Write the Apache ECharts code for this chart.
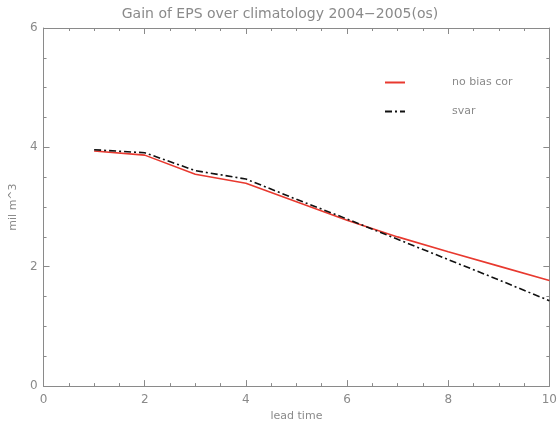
<!DOCTYPE html>
<html><head><meta charset="utf-8">
<script src="https://cdn.jsdelivr.net/npm/echarts@6/dist/echarts.min.js"></script>
<style>html,body{margin:0;padding:0;background:#fff}#c{width:560px;height:427px}</style>
</head><body><div id="c"></div>
<script>
const leadTime = [1, 2, 3, 4, 5, 6, 7, 8, 9, 10];
const noBiasCor = [3.94, 3.87, 3.55, 3.40, 3.09, 2.78, 2.50, 2.25, 2.01, 1.77];
const svar = [3.96, 3.91, 3.61, 3.47, 3.13, 2.80, 2.46, 2.12, 1.78, 1.43];
const seriesNames = ['no bias cor', 'svar'];
const titleText = 'Gain of EPS over climatology 2004\u22122005(os)';
const xName = 'lead time';
const yName = 'mil m^3';

const gray = '#8a8a8a';
const font = 'DejaVu Sans';
const chart = echarts.init(document.getElementById('c'));
const axisCommon = {
  axisLine: {show: true, onZero: false, lineStyle: {color: gray, width: 1}},
  axisTick: {show: true, inside: true, length: 6, lineStyle: {color: gray}},
  minorTick: {show: true, splitNumber: 4, length: 3, lineStyle: {color: gray}},
  splitLine: {show: false}
};
chart.setOption({
  animation: false,
  backgroundColor: '#fff',
  title: {text: titleText, left: 'center', top: 2,
    textStyle: {color: gray, fontFamily: font, fontWeight: 'normal', fontSize: 14}},
  legend: {
    orient: 'vertical', left: 379, top: 72, itemGap: 18, itemWidth: 20, itemHeight: 12,
    data: seriesNames,
    itemStyle: {opacity: 0},
    textStyle: {color: gray, fontFamily: font, fontSize: 11, padding: [0, 0, 0, 42]}
  },
  grid: {left: 43, right: 7, top: 28, bottom: 37, containLabel: false},
  xAxis: [
    Object.assign({type: 'value', min: 0, max: 10, interval: 2, position: 'bottom',
      name: xName, nameLocation: 'middle', nameGap: 22,
      nameTextStyle: {color: gray, fontFamily: font, fontSize: 11},
      axisLabel: {color: gray, fontFamily: font, fontSize: 12, margin: 8}}, axisCommon),
    Object.assign({type: 'value', min: 0, max: 10, interval: 2, position: 'top',
      axisLabel: {show: false}}, axisCommon)
  ],
  yAxis: [
    Object.assign({type: 'value', min: 0, max: 6, interval: 2, position: 'left',
      name: yName, nameLocation: 'middle', nameGap: 24,
      nameTextStyle: {color: gray, fontFamily: font, fontSize: 11},
      axisLabel: {color: gray, fontFamily: font, fontSize: 12, margin: 6}}, axisCommon),
    Object.assign({type: 'value', min: 0, max: 6, interval: 2, position: 'right',
      axisLabel: {show: false}}, axisCommon)
  ],
  series: [
    {name: seriesNames[0], type: 'line', symbol: 'none', xAxisIndex: 0, yAxisIndex: 0,
      data: leadTime.map((x, i) => [x, noBiasCor[i]]),
      lineStyle: {color: '#e8392f', width: 1.6}, itemStyle: {color: '#e8392f'}},
    {name: seriesNames[1], type: 'line', symbol: 'none', xAxisIndex: 0, yAxisIndex: 0,
      data: leadTime.map((x, i) => [x, svar[i]]),
      lineStyle: {color: '#111', width: 1.6, type: [7, 3, 2, 3]}, itemStyle: {color: '#111'}}
  ]
});
</script></body></html>
